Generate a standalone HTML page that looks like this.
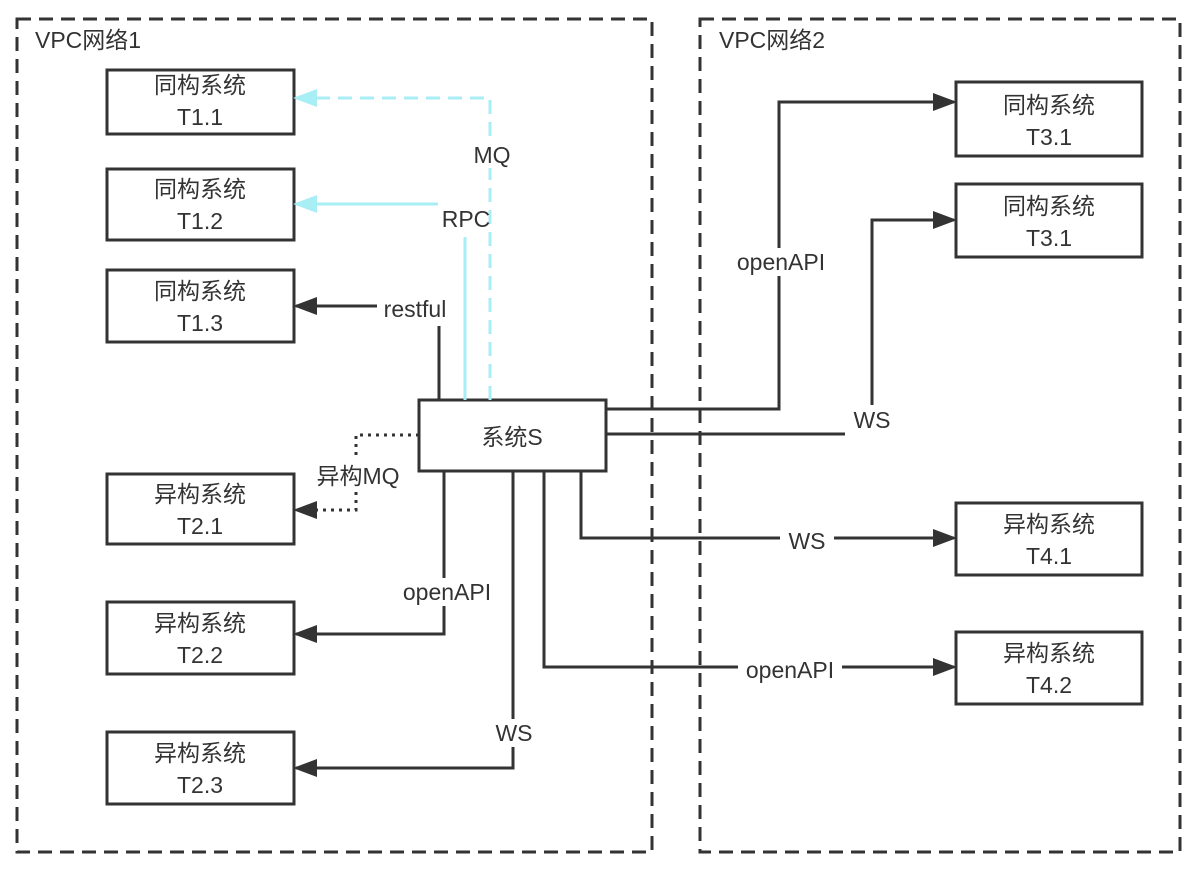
<!DOCTYPE html>
<html><head><meta charset="utf-8"><style>
body{margin:0;background:#fff}
svg text{font-family:"Liberation Sans","Noto Sans CJK SC",sans-serif;font-size:23px;fill:#333}
</style></head><body>
<svg width="1194" height="868" viewBox="0 0 1194 868" xmlns="http://www.w3.org/2000/svg">
<defs>
<marker id="a" markerWidth="8" markerHeight="6" refX="7" refY="3" orient="auto" markerUnits="strokeWidth"><path d="M0,0L8,3L0,6z" fill="#333"/></marker>
<marker id="c" markerWidth="8" markerHeight="6" refX="7" refY="3" orient="auto" markerUnits="strokeWidth"><path d="M0,0L8,3L0,6z" fill="#a8eef5"/></marker>
</defs>
<g fill="none" stroke="#333" stroke-width="3" stroke-dasharray="14,8">
<rect x="17" y="19" width="635" height="833"/>
<rect x="700" y="19" width="480" height="833"/>
</g>
<text x="35" y="48">VPC网络1</text>
<text x="719" y="48">VPC网络2</text>
<g fill="#fff" stroke="#333" stroke-width="3">
<rect x="107" y="70" width="187" height="64"/>
<rect x="107" y="169" width="187" height="71"/>
<rect x="107" y="270" width="187" height="72"/>
<rect x="107" y="474" width="187" height="70"/>
<rect x="107" y="602" width="187" height="72"/>
<rect x="107" y="732" width="187" height="72"/>
<rect x="419" y="400" width="187" height="71"/>
<rect x="956" y="82" width="186" height="74"/>
<rect x="956" y="184" width="186" height="73"/>
<rect x="956" y="503" width="186" height="72"/>
<rect x="956" y="632" width="186" height="72"/>
</g>
<g text-anchor="middle">
<text x="200" y="93">同构系统</text><text x="200" y="125">T1.1</text>
<text x="200" y="197">同构系统</text><text x="200" y="229">T1.2</text>
<text x="200" y="299">同构系统</text><text x="200" y="331">T1.3</text>
<text x="200" y="502">异构系统</text><text x="200" y="534">T2.1</text>
<text x="200" y="631">异构系统</text><text x="200" y="663">T2.2</text>
<text x="200" y="761">异构系统</text><text x="200" y="793">T2.3</text>
<text x="512" y="445">系统S</text>
<text x="1049" y="113">同构系统</text><text x="1049" y="145">T3.1</text>
<text x="1049" y="214">同构系统</text><text x="1049" y="246">T3.1</text>
<text x="1049" y="532">异构系统</text><text x="1049" y="564">T4.1</text>
<text x="1049" y="661">异构系统</text><text x="1049" y="693">T4.2</text>
</g>
<g fill="none" stroke-width="3">
<path d="M490 400V98H296" stroke="#a8eef5" stroke-dasharray="14,8" marker-end="url(#c)"/>
<path d="M465 400V237" stroke="#a8eef5"/>
<path d="M438 204H296" stroke="#a8eef5" marker-end="url(#c)"/>
<path d="M439 400V326" stroke="#333"/>
<path d="M377 306H296" stroke="#333" marker-end="url(#a)"/>
<path d="M419 435H356V510H296" stroke="#333" stroke-dasharray="3,5" marker-end="url(#a)"/>
<path d="M444 471V634H296" stroke="#333" marker-end="url(#a)"/>
<path d="M513 471V768H296" stroke="#333" marker-end="url(#a)"/>
<path d="M581 471V538H954" stroke="#333" marker-end="url(#a)"/>
<path d="M544 471V667H954" stroke="#333" marker-end="url(#a)"/>
<path d="M606 409H779V102H954" stroke="#333" marker-end="url(#a)"/>
<path d="M606 434H845" stroke="#333"/>
<path d="M872 405V220H954" stroke="#333" marker-end="url(#a)"/>
</g>
<g text-anchor="middle">
<rect x="468" y="140" width="48" height="28" fill="#fff"/>
<text x="492" y="163">MQ</text>
<text x="466" y="227">RPC</text>
<text x="415" y="317">restful</text>
<rect x="310" y="460" width="96" height="30" fill="#fff"/>
<text x="358" y="484">异构MQ</text>
<rect x="395" y="578" width="104" height="28" fill="#fff"/>
<text x="447" y="600">openAPI</text>
<rect x="490" y="719" width="48" height="28" fill="#fff"/>
<text x="514" y="741">WS</text>
<rect x="780" y="527" width="54" height="26" fill="#fff"/>
<text x="807" y="549">WS</text>
<rect x="738" y="656" width="104" height="28" fill="#fff"/>
<text x="790" y="678">openAPI</text>
<rect x="728" y="248" width="106" height="28" fill="#fff"/>
<text x="781" y="270">openAPI</text>
<text x="872" y="428">WS</text>
</g>
</svg>
</body></html>
